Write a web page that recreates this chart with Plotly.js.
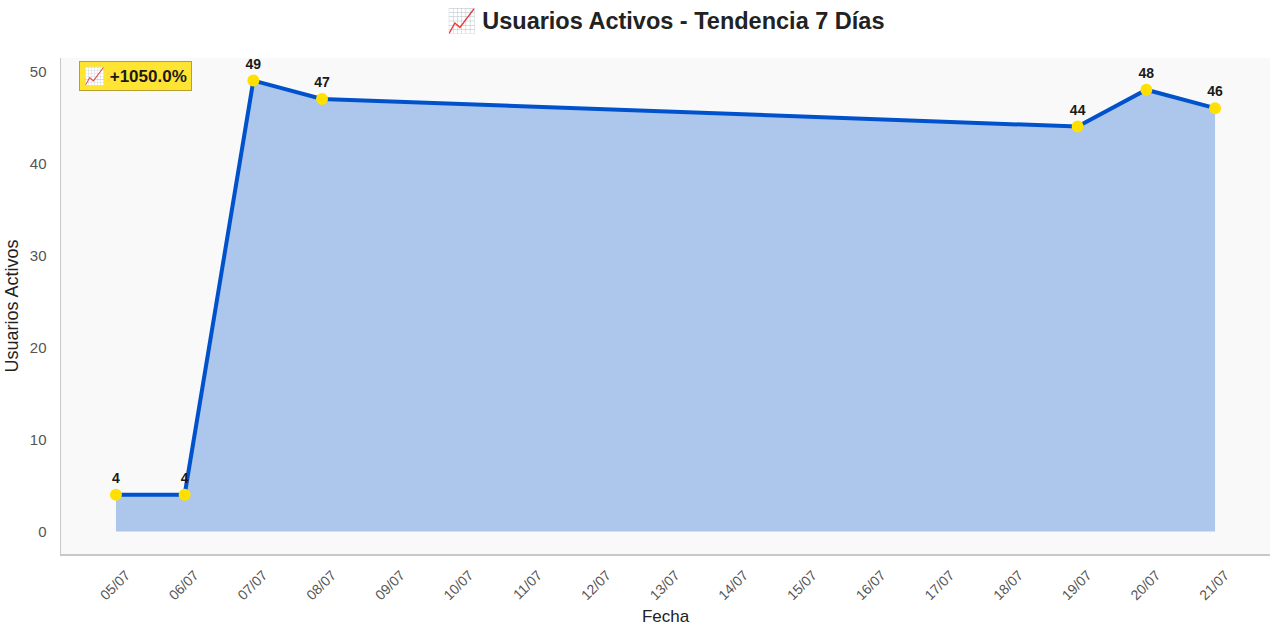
<!DOCTYPE html>
<html>
<head>
<meta charset="utf-8">
<script src="https://cdn.plot.ly/plotly-3.0.1.min.js"></script>
<style>html,body{margin:0;padding:0;background:#fff;}#chart{width:1280px;height:634px;}</style>
</head>
<body>
<div id="chart"></div>
<script>
const dates = ['2025-07-05','2025-07-06','2025-07-07','2025-07-08','2025-07-19','2025-07-20','2025-07-21'];
const users = [4, 4, 49, 47, 44, 48, 46];
const labels = users.map(v => String(v));
const titleText = '📈 Usuarios Activos - Tendencia 7 Días';
const badgeText = '📈 +1050.0%';
const xTitle = 'Fecha';
const yTitle = 'Usuarios Activos';

const FONT = 'Liberation Sans, Arial, sans-serif';

const trace = {
  x: dates,
  y: users,
  type: 'scatter',
  mode: 'lines+markers+text',
  fill: 'tozeroy',
  fillcolor: '#adc6eb',
  line: {color: '#0052cc', width: 4},
  marker: {color: '#ffe000', size: 12, line: {width: 0}},
  text: labels,
  textposition: 'top center',
  textfont: {family: FONT, size: 14, color: '#1a1a1a', weight: 'bold'},
  hoverinfo: 'x+y',
  cliponaxis: false
};

const layout = {
  width: 1280, height: 634,
  paper_bgcolor: '#ffffff',
  plot_bgcolor: '#f9f9f9',
  margin: {l: 61, r: 10, t: 58, b: 80},
  showlegend: false,
  font: {family: FONT, color: '#555'},
  title: {text: '<b>' + titleText + '</b>', x: 0.52, xanchor: 'center', y: 0.967, yanchor: 'middle',
          font: {family: FONT, size: 23.5, color: '#222'}},
  xaxis: {
    type: 'date',
    range: ['2025-07-04 04:48', '2025-07-21 19:12'],
    tickformat: '%d/%m',
    dtick: 86400000,
    tick0: '2025-07-05',
    tickangle: -45,
    tickfont: {family: FONT, size: 14, color: '#555'},
    showgrid: false, zeroline: false,
    showline: true, linecolor: '#c8c8c8', linewidth: 1.5,
    ticks: '', ticklabelstandoff: 6, ticklabelshift: 10,
    title: {text: xTitle, font: {family: FONT, size: 17, color: '#222'}, standoff: 8}
  },
  yaxis: {
    range: [-2.45, 51.45],
    tickvals: [0, 10, 20, 30, 40, 50],
    tickfont: {family: FONT, size: 15, color: '#555'},
    showgrid: false, zeroline: false,
    showline: true, linecolor: '#c8c8c8', linewidth: 1.5,
    ticks: '', ticklabelstandoff: 10,
    title: {text: yTitle, font: {family: FONT, size: 18, color: '#222'}, standoff: 6}
  },
  annotations: [{
    xref: 'paper', yref: 'paper', x: 0.015, y: 0.993, xanchor: 'left', yanchor: 'top',
    text: '<b>' + badgeText + '</b>', showarrow: false,
    font: {family: FONT, size: 17, color: '#1a1a1a'},
    bgcolor: '#ffe433', bordercolor: '#b8a030', borderwidth: 1, borderpad: 4
  }]
};

Plotly.newPlot('chart', [trace], layout, {displayModeBar: false, staticPlot: true});
</script>
</body>
</html>
